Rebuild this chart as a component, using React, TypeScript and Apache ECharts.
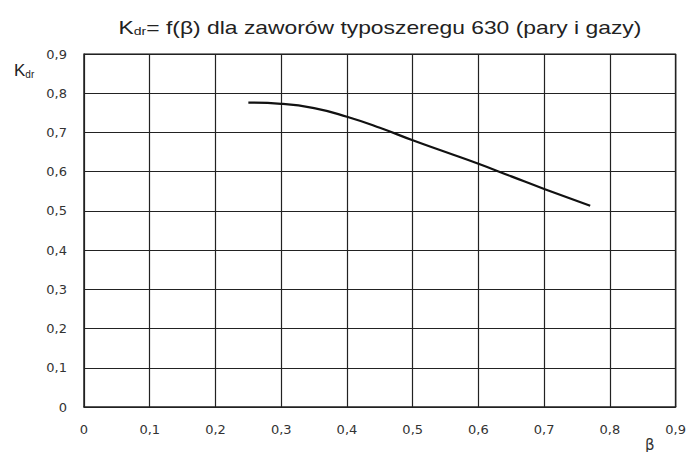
import React, { useEffect, useRef } from "react";
import * as echarts from "echarts";

const betaValues = [0.25, 0.3, 0.35, 0.4, 0.45, 0.5, 0.55, 0.6, 0.65, 0.7, 0.77];
const kdrValues = [0.776, 0.773, 0.762, 0.740, 0.712, 0.680, 0.650, 0.620, 0.588, 0.556, 0.513];
const tickFormat = (v: number) => (Math.round(v * 10) / 10).toString().replace(".", ",");

export default function App() {
  const ref = useRef<HTMLDivElement>(null);
  useEffect(() => {
    if (!ref.current) return;
    const chart = echarts.init(ref.current, null, { renderer: "svg" });
    const labelStyle = { fontFamily: "DejaVu Sans", fontSize: 13, color: "#333" };
    chart.setOption({
      animation: false,
      backgroundColor: "#fff",
      graphic: [
        {
          type: "text",
          x: 380,
          y: 27,
          scaleX: 1.27,
          style: {
            text: "{k|K}{s|dr}{n|= f(β) dla zaworów typoszeregu 630 (pary i gazy)}",
            align: "center",
            verticalAlign: "middle",
            rich: {
              k: { fontFamily: "Liberation Sans", fontSize: 18, fill: "#222" },
              s: { fontFamily: "Liberation Sans", fontSize: 11, fill: "#222", padding: [8, 0, 0, 0] },
              n: { fontFamily: "Liberation Sans", fontSize: 18, fill: "#222" },
            },
          },
        },
        {
          type: "text",
          left: 14,
          top: 62,
          style: {
            text: "{k|K}{s|dr}",
            rich: {
              k: { fontFamily: "Liberation Sans", fontSize: 17, fill: "#222" },
              s: { fontFamily: "Liberation Sans", fontSize: 10, fill: "#222", padding: [8, 0, 0, 0] },
            },
          },
        },
        {
          type: "text",
          left: 645,
          top: 437,
          style: { text: "β", fontFamily: "DejaVu Sans", fontSize: 15, fill: "#333" },
        },
      ],
      grid: { left: 84, right: 12, top: 54, bottom: 45 },
      xAxis: {
        type: "value",
        min: 0,
        max: 0.9,
        interval: 0.1,
        axisLine: { show: true, lineStyle: { color: "#222", width: 1.5 } },
        axisTick: { show: false },
        axisLabel: { ...labelStyle, margin: 16, formatter: tickFormat },
        splitLine: { show: true, lineStyle: { color: "#222", width: 1.2 } },
      },
      yAxis: {
        type: "value",
        min: 0,
        max: 0.9,
        interval: 0.1,
        axisLine: { show: true, lineStyle: { color: "#222", width: 1.5 } },
        axisTick: { show: false },
        axisLabel: { ...labelStyle, margin: 17, formatter: tickFormat },
        splitLine: { show: true, lineStyle: { color: "#222", width: 1.2 } },
      },
      series: [
        {
          type: "line",
          data: betaValues.map((b, i) => [b, kdrValues[i]]),
          smooth: true,
          showSymbol: false,
          lineStyle: { color: "#111", width: 2.2 },
        },
        {
          type: "line",
          data: [[0.9, 0], [0.9, 0.9], [0, 0.9]],
          showSymbol: false,
          silent: true,
          lineStyle: { color: "#222", width: 1.5 },
        },
      ],
    });
    return () => chart.dispose();
  }, []);
  return <div ref={ref} style={{ width: 689, height: 452, position: "absolute", left: 0, top: 0 }} />;
}
